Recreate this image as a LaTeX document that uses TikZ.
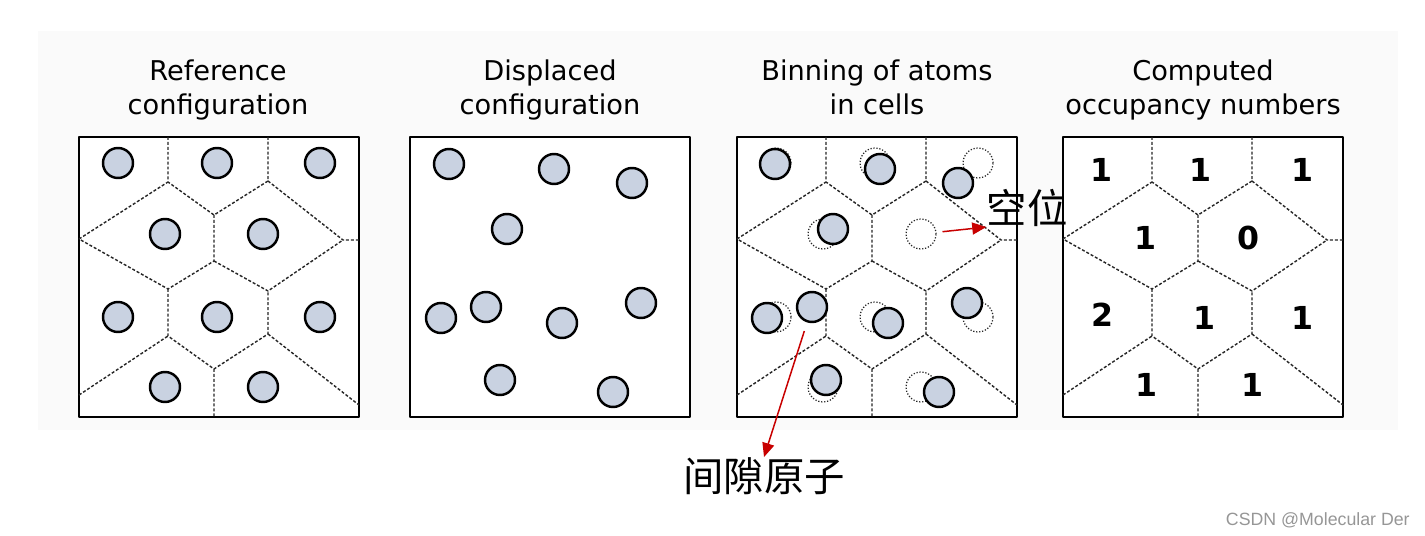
\documentclass[tikz,border=0pt]{standalone}
\usepackage{fontspec}
\setmainfont{DejaVu Sans}
\newfontfamily\cjk{Noto Sans CJK SC}
\newfontfamily\wmfont{Liberation Sans}
\usetikzlibrary{arrows.meta}
\definecolor{atomfill}{RGB}{201,210,225}
\definecolor{bggray}{RGB}{250,250,250}
\definecolor{arrowred}{RGB}{200,0,0}
\definecolor{wmgray}{RGB}{150,150,150}
\begin{document}
\begin{tikzpicture}[x=0.02cm, y=-0.02cm, line join=round, >={Triangle[length=0.28cm,width=0.24cm]},
	panel/.style={draw, fill=white, line width=1.4pt},
	wall/.style={line width=0.8pt, black!85, dash pattern=on 1.7pt off 1.1pt},
	atom/.style={circle, draw, line width=1.4pt, fill=atomfill, inner sep=0pt, minimum size=0.6cm},
	site/.style={circle, draw=black!85, densely dotted, line width=0.7pt, inner sep=0pt, minimum size=0.6cm},
	ttl/.style={font=\fontsize{15.5}{19.3}\selectfont, align=center, anchor=north},
	num/.style={font=\bfseries\fontsize{18}{18}\selectfont, inner sep=0pt},
	cjklbl/.style={font=\cjk\fontsize{23}{23}\selectfont, inner sep=0pt},
	callout/.style={->, arrowred, line width=0.85pt}]
	\useasboundingbox (0,0) rectangle (1425,536);
	\fill[bggray] (38,31) rectangle (1398,430);
	%titles
	\node[ttl] (t1) at (218,54) {Reference\\configuration};
	\node[ttl] (t2) at (550,54) {Displaced\\configuration};
	\node[ttl] (t3) at (877,54) {Binning of atoms\\in cells};
	\node[ttl] (t4) at (1203,54) {Computed\\occupancy numbers};
	\foreach \ox in {79,410,737,1063} \draw[panel] (\ox,137) rectangle +(280,280);
	%cell walls
	\foreach \ox in {79,737,1063} {
		\begin{scope}[shift={(\ox,137)}]
			\draw[wall] (89,0) -- (89,45) -- (135,78) -- (189,44) -- (189,0) (0,102) -- (89,45) (189,44) -- (264,103) -- (280,103);
			\draw[wall] (135,78) -- (135,124) -- (89,152) -- (0,102) (135,124) -- (189,154) -- (264,103);
			\draw[wall] (89,152) -- (89,199) -- (135,232) -- (189,197) -- (189,154) (0,258) -- (89,199) (135,232) -- (135,280) (189,197) -- (280,268);
		\end{scope}
	}
	\foreach \x/\y [count=\i] in {39/26,138/26,241/26,86/97,184/97,39/180,138/180,241/180,86/250,184/250} {
		\node[atom] (r\i) at (79+\x,137+\y) {};
		\node[site] (s\i) at (737+\x,137+\y) {};
	}
	\foreach \x/\y [count=\i] in {39/27,144/32,222/46,97/92,31/181,76/170,152/186,231/166,90/243,203/255} {
		\node[atom] (d\i) at (410+\x,137+\y) {};
		\node[atom] (b\i) at (736+\x,137+\y) {};
	}
	\foreach \x/\y/\n [count=\i] in {38/33/1,137/33/1,239/33/1,82/101/1,185/101/0,39/178/2,141/181/1,239/181/1,83/248/1,189/248/1}
		\node[num] (n\i) at (1063+\x,137+\y) {\n};
	\node[cjklbl] (vaclbl) at (1027,208) {空位};
	\node[cjklbl] (intlbl) at (764,476) {间隙原子};
	\draw[callout, shorten <=0.12cm] (s5) -- (vaclbl.south west);
	\draw[callout, shorten <=0.18cm] (b6) -- (intlbl.north);
	\node[font=\wmfont\fontsize{10.1}{10.1}\selectfont, text=wmgray, anchor=east, inner sep=0pt] (wm) at (1410,520) {CSDN @Molecular Der};
\end{tikzpicture}
\end{document}
